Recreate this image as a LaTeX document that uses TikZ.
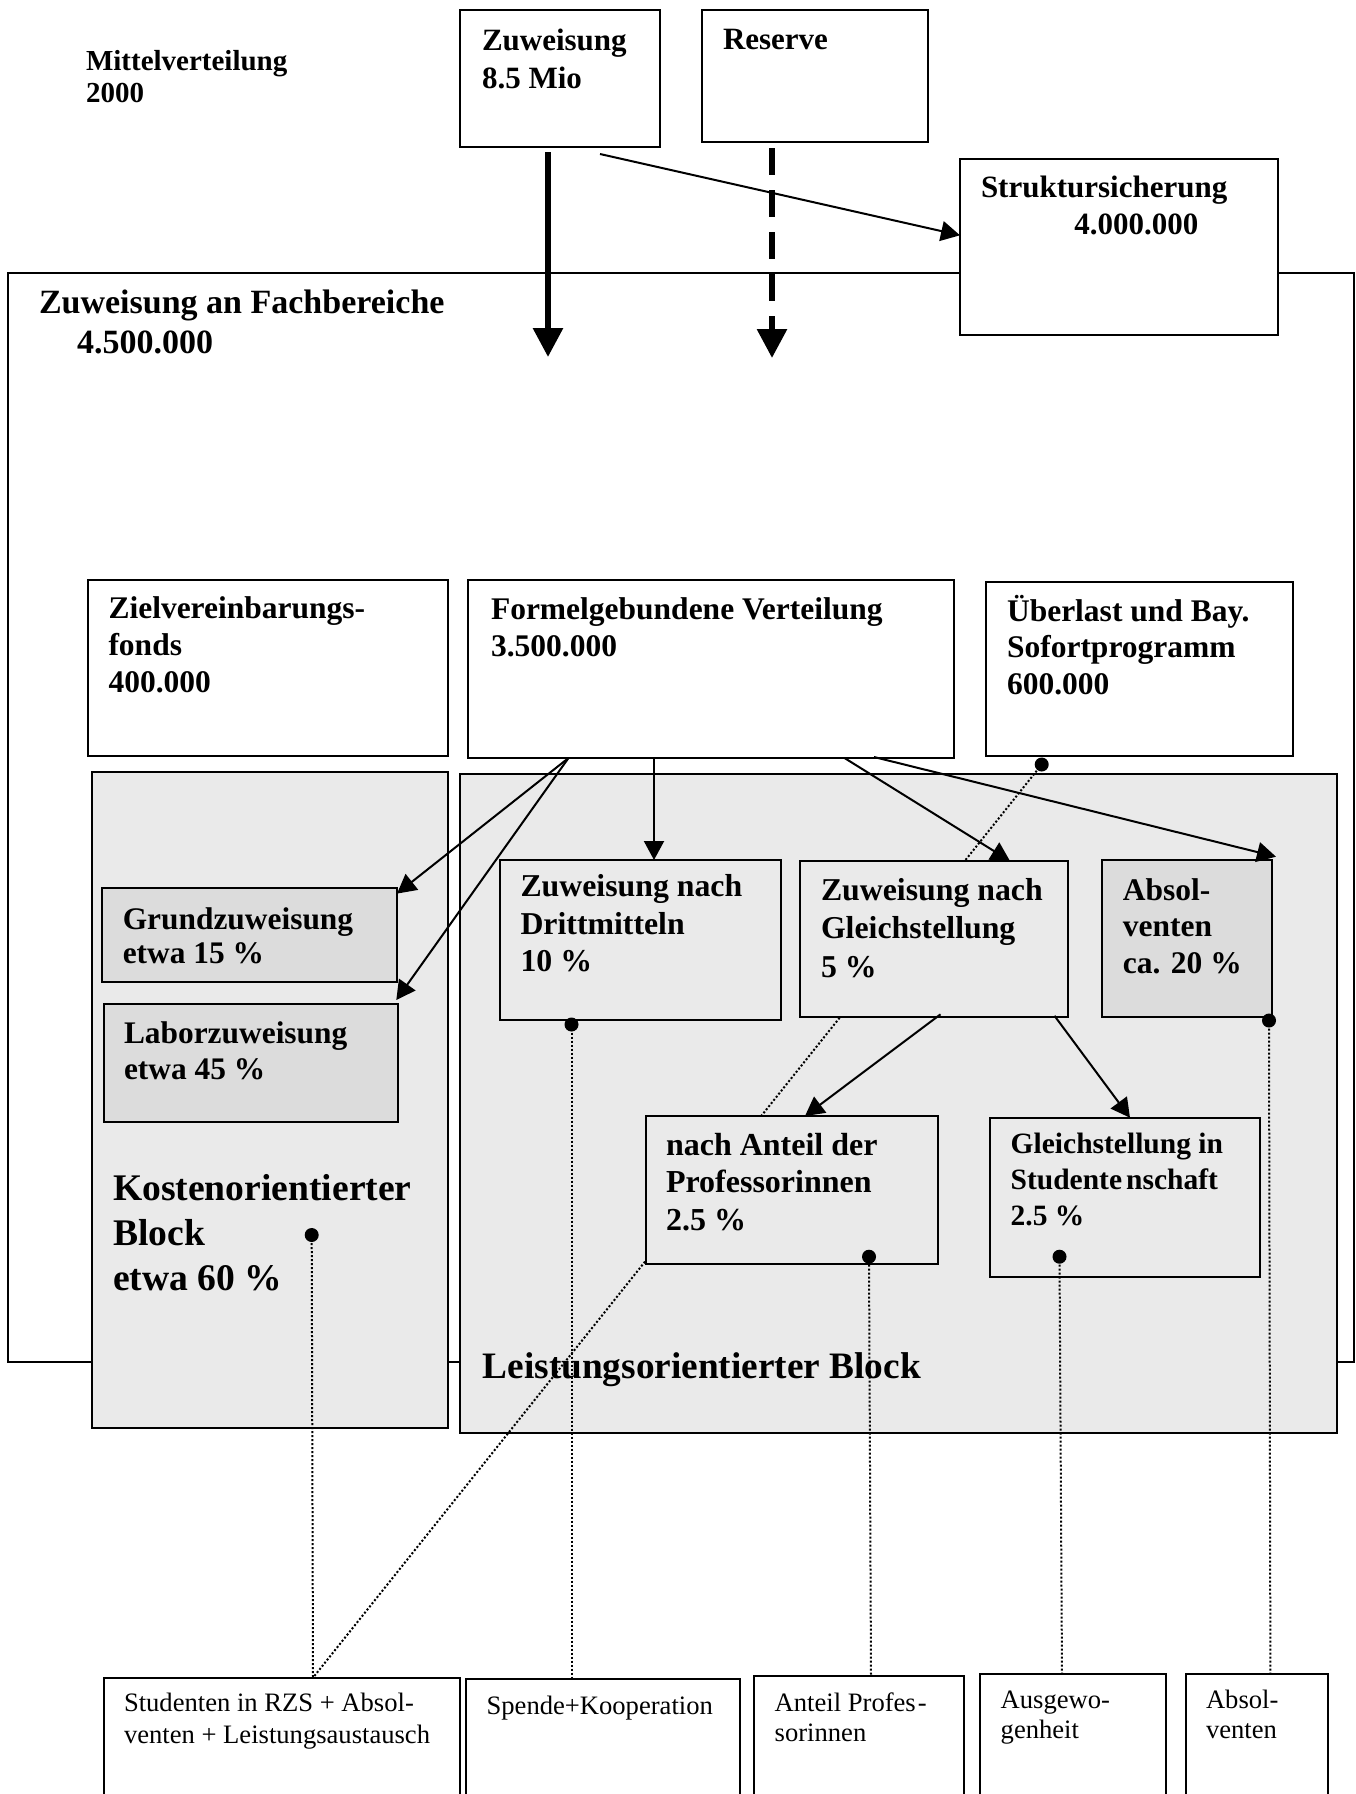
\documentclass[tikz,border=0pt]{standalone}
\usepackage{fontspec}
\setmainfont{Liberation Serif}
\usetikzlibrary{arrows.meta,calc}
\definecolor{blockfill}{RGB}{234,234,234}
\definecolor{darkfill}{RGB}{220,220,220}
\tikzset{
  box/.style={draw, line width=2pt, inner sep=0pt, outer sep=0pt, anchor=north west, fill=white},
  lbox/.style={box, fill=blockfill},
  dbox/.style={box, fill=darkfill},
  arr/.style={line width=2pt, -{Triangle[length=19pt,width=20pt]}},
  bigarr/.style={line width=6pt, -{Triangle[length=29pt,width=29pt]}},
  dotline/.style={line width=2pt, dash pattern=on 2pt off 2pt},
  pin/.style={fill=black, circle, minimum size=14pt, inner sep=0pt},
  txt/.style={anchor=north west, inner sep=0pt, outer sep=0pt, align=left},
  bt/.style 2 args={txt, font={\bfseries\fontsize{#1}{#2}\selectfont}},
  rt/.style 2 args={txt, font={\fontsize{#1}{#2}\selectfont}},
}
\newcommand{\fl}{\rule{0pt}{30pt}}
\begin{document}
\begin{tikzpicture}[x=1pt,y=-1pt]
\useasboundingbox (0,0) rectangle (1356,1794);
\clip (0,0) rectangle (1356,1794);

% outer box and top boxes
\node[box, minimum width=1346.5pt, minimum height=1088.7pt] (outer) at (7.5,273.3) {};
\node[box, minimum width=318.3pt, minimum height=175.7pt] (strukt) at (960,159.3) {};
\node[box, minimum width=200pt, minimum height=137pt] (zuw) at (460,10) {};
\node[box, minimum width=226pt, minimum height=131.5pt] (res) at (702,10) {};

\coordinate (zuwtip) at (548,357);
\coordinate (restip) at (772,358);
\draw[bigarr] ($(zuw.south west)+(88,5)$) -- (zuwtip);
\draw[bigarr, dash pattern=on 27pt off 15pt] ($(res.south west)+(70,6.5)$) -- (restip);
\draw[arr] ($(zuw.south west)+(140,7)$) -- ($(strukt.north west)+(0,76)$);

% grey blocks
\node[lbox, minimum width=356.8pt, minimum height=656.5pt] (lblock) at (91.5,771.5) {};
\node[lbox, minimum width=876.6pt, minimum height=659.9pt] (rblock) at (460,773.5) {};

% second row boxes
\node[box, minimum width=360pt, minimum height=175.5pt] (ziel) at (88,580) {};
\node[box, minimum width=486pt, minimum height=178pt] (formel) at (468,580) {};
\node[box, minimum width=306.5pt, minimum height=174.2pt] (ueber) at (986,581.8) {};

% bottom boxes
\node[box, minimum width=356.2pt, minimum height=160pt] (b1) at (103.6,1677.7) {};
\node[box, minimum width=273.7pt, minimum height=160pt] (b2) at (466,1678.5) {};
\node[box, minimum width=209.9pt, minimum height=160pt] (b3) at (754.3,1675.7) {};
\node[box, minimum width=186.3pt, minimum height=160pt] (b4) at (980,1673.5) {};
\node[box, minimum width=142.1pt, minimum height=160pt] (b5) at (1186.2,1673.5) {};

% long dotted line from Ueberlast (behind inner boxes)
\coordinate (cU) at ($(ueber.south west)+(55.7,8.5)$);
\draw[dotline] (cU) -- ($(b1.north west)+(209.4,0)$);

% inner boxes
\node[dbox, minimum width=295pt, minimum height=94.1pt] (grund) at (102,887.6) {};
\node[dbox, minimum width=294.7pt, minimum height=117.8pt] (labor) at (103.6,1004) {};
\node[lbox, minimum width=280.6pt, minimum height=159.5pt] (dritt) at (500,860) {};
\node[lbox, minimum width=268.2pt, minimum height=156.3pt] (gleich) at (800,861) {};
\node[dbox, minimum width=170pt, minimum height=157.6pt] (absol) at (1102,859.7) {};
\node[lbox, minimum width=292pt, minimum height=148pt] (nach) at (646,1116) {};
\node[lbox, minimum width=270.3pt, minimum height=159.6pt] (glin) at (989.7,1117.7) {};

% arrows
\draw[arr] ($(formel.south west)+(100.5,0)$) -- ($(grund.north east)+(0,6)$);
\draw[arr] ($(formel.south west)+(100.5,0)$) -- ($(labor.north east)+(-2,-4)$);
\draw[arr] ($(formel.south west)+(186,0)$) -- ($(dritt.north west)+(154,0)$);
\draw[arr] ($(formel.south west)+(376.5,0)$) -- ($(gleich.north west)+(210,0)$);
\draw[arr] ($(formel.south west)+(406,-1)$) -- ($(absol.north east)+(4,-3)$);
\draw[arr] ($(gleich.south west)+(140.5,-3)$) -- ($(nach.north west)+(159,0)$);
\draw[arr] ($(gleich.south west)+(254.5,-1.5)$) -- ($(glin.north west)+(140.3,0)$);

% other dotted lines
\coordinate (cK) at ($(lblock.north west)+(220.2,463.5)$);
\coordinate (cD) at ($(dritt.south west)+(71.5,5)$);
\coordinate (cN) at ($(nach.south west)+(223,-7.3)$);
\coordinate (cG) at ($(glin.south west)+(69.8,-20.6)$);
\coordinate (cA) at ($(absol.south east)+(-3,3.2)$);
\draw[dotline] (cK) -- ($(b1.north west)+(209.4,0)$);
\draw[dotline] (cD) -- ($(b2.north west)+(105.5,0)$);
\draw[dotline] (cN) -- ($(b3.north west)+(116.7,0)$);
\draw[dotline] (cG) -- ($(b4.north west)+(82,0)$);
\draw[dotline] (cA) -- ($(b5.north west)+(84.2,0)$);

% pins
\node[pin] (pU) at (cU) {};
\node[pin] (pK) at (cK) {};
\node[pin] (pD) at (cD) {};
\node[pin] (pN) at (cN) {};
\node[pin] (pG) at (cG) {};
\node[pin] (pA) at (cA) {};

% texts
\node[bt={29}{32}] (mittT) at (86,40) {\fl Mittelverteilung\\2000};
\node[bt={31}{38}] (zuwT) at (482,20) {\fl Zuweisung\\8.5 Mio};
\node[bt={31}{38}] (resT) at (723,19) {\fl Reserve};
\node[bt={31}{37}] (struktT) at (981,167.3) {\fl Struktursicherung\\\hspace*{93.3pt}4.000.000};
\node[bt={34}{40}] (fachT) at (39,283) {\fl Zuweisung an Fachbereiche\\\hspace*{38pt}4.500.000};
\node[bt={31.5}{37}] (zielT) at (108.5,588) {\fl Zielvereinbarungs-\\fonds\\400.000};
\node[bt={31.5}{37}] (formelT) at (491,589) {\fl Formelgebundene Verteilung\\3.500.000};
\node[bt={31.5}{36.8}] (ueberT) at (1007,591) {\fl Überlast und Bay.\\Sofortprogramm\\600.000};
\node[bt={31.4}{34.5}] (grundT) at (122.8,899.3) {\fl Grundzuweisung\\etwa 15 \%};
\node[bt={31.4}{36.7}] (laborT) at (124,1013) {\fl Laborzuweisung\\etwa 45 \%};
\node[bt={31.8}{37.5}] (drittT) at (520.5,866.7) {\fl Zuweisung nach\\Drittmitteln\\10 \%};
\node[bt={31.8}{38.2}] (gleichT) at (821,870.6) {\fl Zuweisung nach\\Gleichstellung\\5 \%};
\node[bt={31.5}{36.5}] (absolT) at (1122.8,870) {\fl Absol-\\venten\\ca. 20 \%};
\node[bt={32}{37.8}] (nachT) at (666,1125) {\fl nach Anteil der\\Professorinnen\\2.5 \%};
\node[bt={29.5}{36}] (glinT) at (1010.7,1123.3) {\fl Gleichstellung in\\Studente\kern4pt nschaft\\2.5 \%};
\node[bt={37.6}{45}] (kostT) at (113,1170.7) {\fl Kostenorientierter\\Block\\etwa 60 \%};
\node[bt={37.3}{45}] (leistT) at (482.7,1348.3) {\fl Leistungsorientierter Block};
\node[rt={26.6}{31.6}] (b1T) at (124,1681.8) {\fl Studenten in RZS + Absol-\\venten + Leistungsaustausch};
\node[rt={26.6}{31.6}] (b2T) at (486.6,1684.7) {\fl Spende+Kooperation};
\node[rt={26.6}{30}] (b3T) at (774.7,1681.7) {\fl Anteil Profes\kern2pt-\\sorinnen};
\node[rt={26.6}{30}] (b4T) at (1000.7,1678.3) {\fl Ausgewo-\\genheit};
\node[rt={26.6}{30}] (b5T) at (1206,1678.3) {\fl Absol-\\venten};
\end{tikzpicture}
\end{document}
